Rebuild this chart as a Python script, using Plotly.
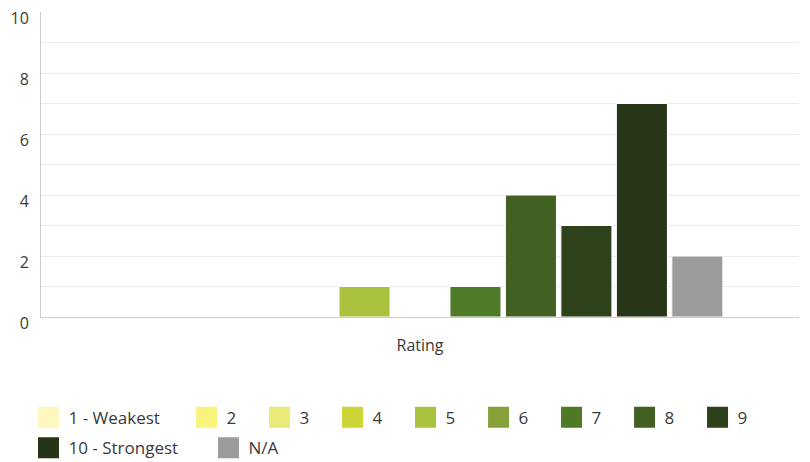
import plotly.graph_objects as go

category = ["Rating"]
series_names = ["1 - Weakest", "2", "3", "4", "5", "6", "7", "8", "9", "10 - Strongest", "N/A"]
series_values = [0, 0, 0, 0, 1, 0, 1, 4, 3, 7, 2]
series_colors = ["#fdf8c0", "#f7f37d", "#e8eb7a", "#cbd636", "#a9c23f", "#86a03a",
                 "#4f7a28", "#426022", "#2d411a", "#263417", "#9b9b9b"]
legend_of = ["legend", "legend2", "legend2", "legend2", "legend2", "legend2",
             "legend2", "legend2", "legend2", "legend3", "legend3"]
y_tick_vals = [0, 1, 2, 3, 4, 5, 6, 7, 8, 9, 10]
y_tick_text = ["0", "", "2", "", "4", "", "6", "", "8", "", "10"]

FONT = "Open Sans"
TXT = "#3a3a3a"

fig = go.Figure()
for name, val, col in zip(series_names, series_values, series_colors):
    fig.add_trace(go.Bar(x=category, y=[val], name=name, marker_color=col,
                         marker_line=dict(color="white", width=1),
                         showlegend=False, legendgroup=name))
for name, col, lg in zip(series_names, series_colors, legend_of):
    fig.add_trace(go.Scatter(x=[None], y=[None], mode="markers", name=name,
                             marker=dict(symbol="square", size=16, color=col,
                                         line=dict(color=col, width=5)),
                             legend=lg, legendgroup=name, showlegend=True))

leg_common = dict(orientation="h", font=dict(family=FONT, size=17, color=TXT),
                  bgcolor="rgba(0,0,0,0)", xanchor="left", yanchor="middle",
                  itemclick=False, itemdoubleclick=False)

fig.update_layout(
    width=802, height=454,
    margin=dict(l=33, r=11, t=4, b=145, autoexpand=False),
    paper_bgcolor="white", plot_bgcolor="white",
    barmode="group", bargap=0.195, bargroupgap=0.08,
    font=dict(family=FONT, color=TXT),
    xaxis=dict(type="category", showline=True, linecolor="#cccccc", linewidth=1,
               tickfont=dict(family=FONT, size=16, color=TXT), ticks="",
               ticklabelstandoff=14, showgrid=False, fixedrange=True),
    yaxis=dict(range=[0, 10], tickvals=y_tick_vals, ticktext=y_tick_text,
               showgrid=True, gridcolor="#ebebeb", gridwidth=1,
               showline=True, linecolor="#cccccc", linewidth=1,
               zeroline=False, ticks="",
               tickfont=dict(family=FONT, size=16, color=TXT),
               ticklabelshift=6, ticklabelstandoff=8,
               ticklabeloverflow="allow"),
    legend=dict(x=-0.0165, y=-0.33, **leg_common),
    legend2=dict(x=0.192, y=-0.33, entrywidth=28, **leg_common),
    legend3=dict(x=-0.0165, y=-0.43, entrywidth=135, **leg_common),
)

fig.write_html("out.html")
